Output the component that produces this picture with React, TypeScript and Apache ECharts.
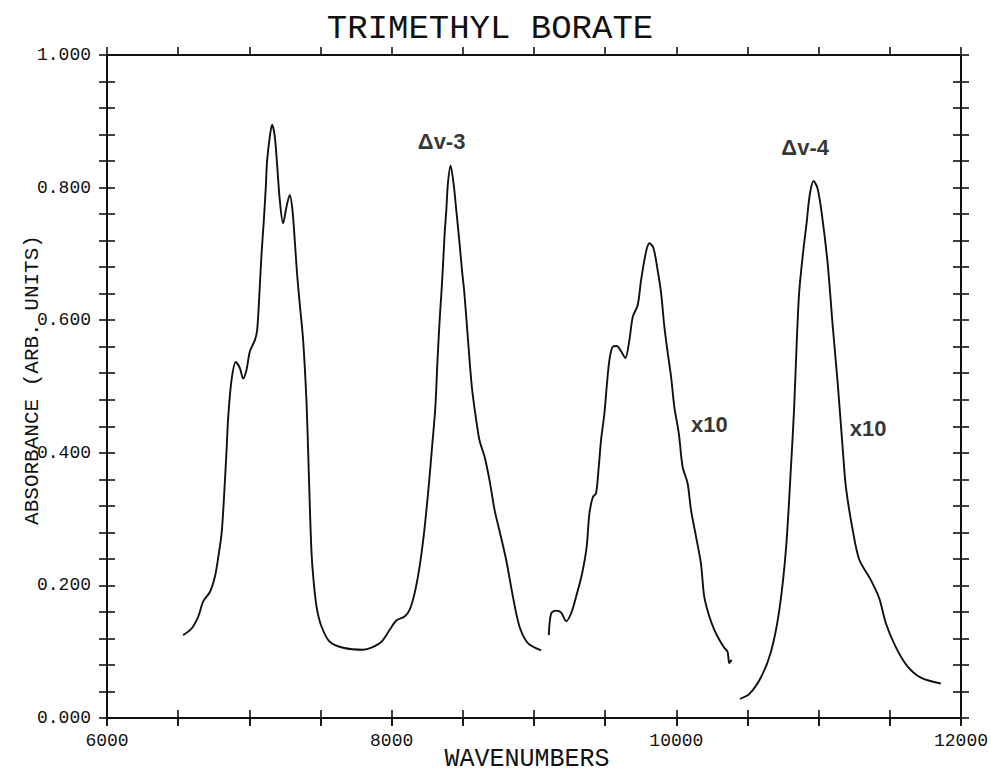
import React, { useEffect, useRef } from "react";
import * as echarts from "echarts";

// ---- Data (wavenumber, absorbance) ----
const fundamentalAndDv3: [number, number][] = [
  [6535, 0.125], [6594, 0.135], [6641, 0.153], [6676, 0.176], [6723, 0.19], [6758, 0.213],
  [6782, 0.243], [6805, 0.278], [6821, 0.329], [6840, 0.404], [6852, 0.455], [6875, 0.51],
  [6905, 0.537], [6933, 0.528], [6957, 0.512], [6980, 0.525], [7004, 0.553], [7039, 0.57],
  [7055, 0.585], [7070, 0.637], [7086, 0.701], [7102, 0.751], [7116, 0.802], [7125, 0.841],
  [7144, 0.877], [7160, 0.895], [7179, 0.877], [7196, 0.832], [7214, 0.781], [7237, 0.746],
  [7261, 0.771], [7284, 0.789], [7303, 0.766], [7319, 0.721], [7335, 0.671], [7354, 0.625],
  [7378, 0.57], [7401, 0.48], [7413, 0.404], [7425, 0.319], [7437, 0.249], [7449, 0.213],
  [7472, 0.168], [7507, 0.138], [7565, 0.115], [7659, 0.106], [7799, 0.103], [7858, 0.106],
  [7928, 0.115], [7986, 0.133], [8033, 0.147], [8091, 0.153], [8126, 0.163], [8161, 0.188],
  [8196, 0.228], [8227, 0.278], [8260, 0.349], [8284, 0.409], [8307, 0.469], [8321, 0.535],
  [8337, 0.6], [8350, 0.643], [8360, 0.68], [8372, 0.73], [8384, 0.766], [8395, 0.806],
  [8414, 0.833], [8435, 0.806], [8454, 0.766], [8477, 0.716], [8496, 0.671], [8510, 0.643],
  [8540, 0.56], [8563, 0.5], [8587, 0.46], [8617, 0.419], [8653, 0.394], [8688, 0.358],
  [8723, 0.314], [8758, 0.282], [8805, 0.238], [8852, 0.183], [8898, 0.138], [8957, 0.113],
  [9050, 0.102],
];

const dv3x10: [number, number][] = [
  [9104, 0.125], [9121, 0.158], [9156, 0.162], [9191, 0.159], [9226, 0.146], [9261, 0.158],
  [9296, 0.183], [9338, 0.218], [9370, 0.258], [9389, 0.308], [9413, 0.333], [9436, 0.339],
  [9455, 0.379], [9471, 0.419], [9495, 0.46], [9511, 0.5], [9530, 0.54], [9553, 0.56],
  [9581, 0.561], [9612, 0.553], [9642, 0.543], [9670, 0.57], [9694, 0.605], [9729, 0.623],
  [9752, 0.66], [9787, 0.703], [9811, 0.716], [9839, 0.709], [9869, 0.675], [9893, 0.641],
  [9916, 0.59], [9940, 0.55], [9963, 0.515], [9986, 0.469], [10017, 0.43], [10044, 0.379],
  [10079, 0.354], [10103, 0.314], [10138, 0.274], [10173, 0.233], [10196, 0.183], [10232, 0.153],
  [10267, 0.133], [10302, 0.118], [10337, 0.106], [10360, 0.1], [10372, 0.083], [10388, 0.088],
];

const dv4x10: [number, number][] = [
  [10447, 0.029], [10512, 0.036], [10594, 0.061], [10665, 0.1], [10723, 0.162], [10770, 0.254],
  [10805, 0.377], [10828, 0.469], [10845, 0.562], [10863, 0.642], [10891, 0.703], [10915, 0.746],
  [10938, 0.79], [10964, 0.81], [10992, 0.799], [11023, 0.759], [11063, 0.686], [11098, 0.593],
  [11133, 0.507], [11168, 0.409], [11192, 0.347], [11238, 0.285], [11285, 0.239], [11367, 0.208],
  [11425, 0.181], [11472, 0.143], [11542, 0.107], [11624, 0.078], [11718, 0.061], [11858, 0.052],
];

const annotations: [number, number, string][] = [
  [8351, 0.869, "Δv-3"],
  [10905, 0.861, "Δv-4"],
  [10232, 0.442, "x10"],
  [11347, 0.436, "x10"],
];

const X_MIN = 6000;
const X_MAX = 12000;
const X_TICK = 500;
const X_LABEL_STEP = 2000;
const Y_MIN = 0;
const Y_MAX = 1;
const Y_TICK = 0.04;
const Y_LABEL_STEP = 0.2;

const TITLE = "TRIMETHYL BORATE";
const X_NAME = "WAVENUMBERS";
const Y_NAME = "ABSORBANCE (ARB. UNITS)";

const MONO = "'Liberation Mono', 'DejaVu Sans Mono', monospace";
const INK = "#111";

export default function App() {
  const ref = useRef<HTMLDivElement>(null);

  useEffect(() => {
    if (!ref.current) return;
    const chart = echarts.init(ref.current, undefined, { renderer: "svg" });

    const isStep = (v: number, step: number) => Math.abs(v / step - Math.round(v / step)) < 1e-6;

    const xBase = {
      type: "value" as const,
      min: X_MIN,
      max: X_MAX,
      interval: X_TICK,
      splitLine: { show: false },
      axisLine: { show: true, onZero: false, lineStyle: { color: INK, width: 2 } },
    };
    const yBase = {
      type: "value" as const,
      min: Y_MIN,
      max: Y_MAX,
      interval: Y_TICK,
      splitLine: { show: false },
      axisLine: { show: true, onZero: false, lineStyle: { color: INK, width: 2 } },
    };
    const tick = (inside: boolean) => ({
      show: true,
      inside,
      length: 8,
      lineStyle: { color: INK, width: 1.6 },
    });
    const noLabel = { show: false };

    const lineSeries = (name: string, data: [number, number][]) => ({
      name,
      type: "line" as const,
      data,
      showSymbol: false,
      symbol: "none",
      smooth: 0.3,
      lineStyle: { color: INK, width: 1.9 },
      xAxisIndex: 0,
      yAxisIndex: 0,
    });

    chart.setOption({
      animation: false,
      backgroundColor: "#fff",
      title: {
        text: TITLE,
        left: 485,
        top: 7,
        textAlign: "center",
        textStyle: { fontFamily: MONO, fontSize: 34, fontWeight: "normal", color: INK },
      },
      grid: { left: 107, right: 29, top: 55, bottom: 56, containLabel: false },
      xAxis: [
        {
          ...xBase,
          position: "bottom",
          axisTick: tick(false),
          axisLabel: {
            show: true,
            margin: 14,
            color: INK,
            fontFamily: MONO,
            fontSize: 18,
            formatter: (v: number) => (isStep(v, X_LABEL_STEP) ? String(v) : ""),
          },
        },
        { ...xBase, position: "bottom", axisLine: { show: false }, axisTick: tick(true), axisLabel: noLabel },
        { ...xBase, position: "top", axisTick: tick(false), axisLabel: noLabel },
        { ...xBase, position: "top", axisLine: { show: false }, axisTick: tick(true), axisLabel: noLabel },
      ],
      yAxis: [
        {
          ...yBase,
          position: "left",
          axisTick: tick(false),
          axisLabel: {
            show: true,
            margin: 16,
            color: INK,
            fontFamily: MONO,
            fontSize: 18,
            formatter: (v: number) => (isStep(v, Y_LABEL_STEP) ? v.toFixed(3) : ""),
          },
        },
        { ...yBase, position: "left", axisLine: { show: false }, axisTick: tick(true), axisLabel: noLabel },
        { ...yBase, position: "right", axisTick: tick(false), axisLabel: noLabel },
        { ...yBase, position: "right", axisLine: { show: false }, axisTick: tick(true), axisLabel: noLabel },
      ],
      graphic: [
        {
          type: "text",
          x: 527,
          y: 759,
          style: {
            text: X_NAME,
            fill: INK,
            font: `normal 25px ${MONO}`,
            align: "center",
            verticalAlign: "middle",
          },
        },
        {
          type: "text",
          x: 32,
          y: 380,
          rotation: Math.PI / 2,
          style: {
            text: Y_NAME,
            fill: INK,
            font: `normal 21px ${MONO}`,
            align: "center",
            verticalAlign: "middle",
          },
        },
      ],
      series: [
        lineSeries("Fundamental region / Δv-3", fundamentalAndDv3),
        lineSeries("Δv-3 x10", dv3x10),
        lineSeries("Δv-4 x10", dv4x10),
        {
          name: "labels",
          type: "scatter",
          xAxisIndex: 0,
          yAxisIndex: 0,
          symbolSize: 0,
          data: annotations.map((a) => ({ value: [a[0], a[1]], name: a[2] })),
          label: {
            show: true,
            position: "inside",
            formatter: (p: any) => p.name,
            color: "#000",
            fontFamily: "'Liberation Sans', Arial, sans-serif",
            fontWeight: "bold",
            fontSize: 22,
            align: "center",
            verticalAlign: "middle",
          },
          silent: true,
        },
      ],
    });

    return () => chart.dispose();
  }, []);

  return (
    <div
      ref={ref}
      style={{ position: "fixed", left: 0, top: 0, width: 991, height: 774, background: "#fff" }}
    />
  );
}
